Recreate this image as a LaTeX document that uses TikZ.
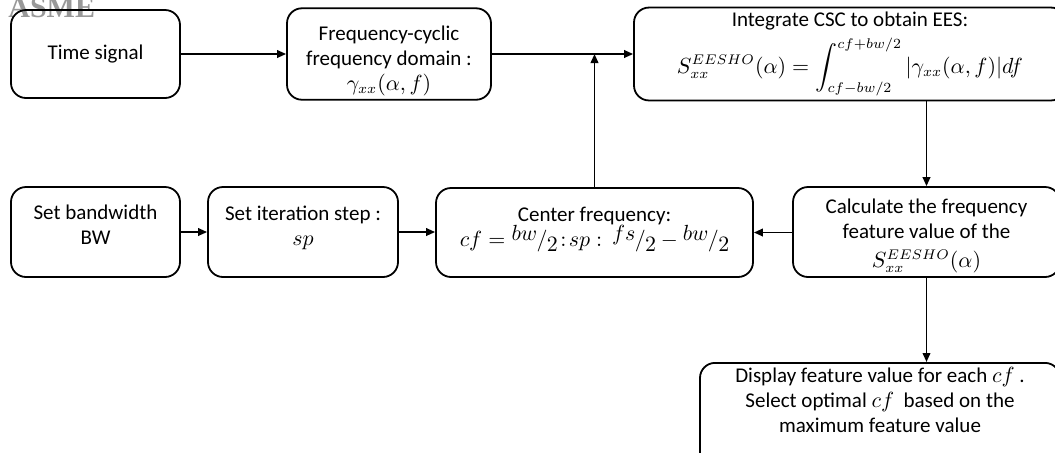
\documentclass[tikz,border=0pt]{standalone}
\usepackage{amsmath}
\usepackage{fontspec}
\setmainfont{Carlito}
\newfontfamily\wmfont{Liberation Serif}
\usetikzlibrary{arrows.meta}
\newcommand{\slf}[2]{\raisebox{0.55ex}{$#1$}\kern-0.3pt/\kern-0.3pt\raisebox{-0.55ex}{$#2$}}
\newcommand{\topstrut}[1]{\rule{0pt}{#1}}
\newcommand{\botstrut}[1]{\rule[-#1]{0pt}{0pt}}
\begin{document}
\begin{tikzpicture}[x=0.5pt,y=-0.5pt,
  box/.style={draw,rounded corners=7.5pt,line width=0.9pt,align=center,inner sep=2pt,
    font=\fontsize{10.5}{12.5}\selectfont},
  arr/.style={-{Triangle[length=4.5pt,width=3.8pt]},line width=0.9pt},
  wm/.style={text=black!40,font=\wmfont\bfseries\fontsize{15}{17}\selectfont,inner sep=0pt,anchor=base west}]
\clip (0,0) rectangle (1055,452);
\fill[white] (0,0) rectangle (1055,452);
\node[wm] (asme) at (8,17) {ASME};
% top row
\node[box,minimum width=84.5pt,minimum height=44pt] (A) at (95.5,54) {Time signal};
\node[box,minimum width=102pt,minimum height=44pt] (B) at (389,54)
  {\topstrut{14pt}Frequency-cyclic\\frequency domain :\\$\gamma_{xx}(\alpha,f)$};
\node[box,minimum width=216pt,minimum height=44pt] (C) at (850,54)
  {Integrate CSC to obtain EES:\\[3pt]
   $\displaystyle S_{xx}^{EESHO}(\alpha)=\int_{cf-bw/2}^{cf+bw/2}|\gamma_{xx}(\alpha,f)|df$};
% second row
\node[box,minimum width=84.5pt,minimum height=45pt] (D) at (95.5,232) {Set bandwidth\\BW\botstrut{7pt}};
\node[box,minimum width=95pt,minimum height=45pt] (E) at (303,232) {Set iteration step :\\$sp$\botstrut{6pt}};
\node[box,minimum width=158.5pt,minimum height=44.5pt] (F) at (594.5,232.5)
  {Center frequency:\\$cf=\slf{bw}{2}\!:\!sp:\,\slf{fs}{2}-\slf{bw}{2}$\botstrut{6pt}};
\node[box,minimum width=133.5pt,minimum height=45pt] (G) at (926.5,232)
  {\topstrut{11pt}Calculate the frequency\\feature value of the\\[2pt]$S_{xx}^{EESHO}(\alpha)$};
% bottom
\node[box,minimum width=180pt,minimum height=52pt] (H) at (880,416)
  {Display feature value for each $cf$ .\\Select optimal $cf$ \ based on the\\maximum feature value\\[4pt]};
% connectors
\coordinate (J) at (F.north |- B.east);
\draw[arr] (A.east) -- (B.west);
\draw[arr] (B.east) -- (C.west);
\draw[arr] (F.north) -- (J);
\draw[arr] (C.south -| G.north) -- (G.north);
\draw[arr] (G.south) -- (G.south |- H.north);
\draw[arr] (D.east) -- (D.east -| E.west);
\draw[arr] (E.east) -- (E.east -| F.west);
\draw[arr] (G.west |- F.east) -- (F.east);
\end{tikzpicture}
\end{document}
